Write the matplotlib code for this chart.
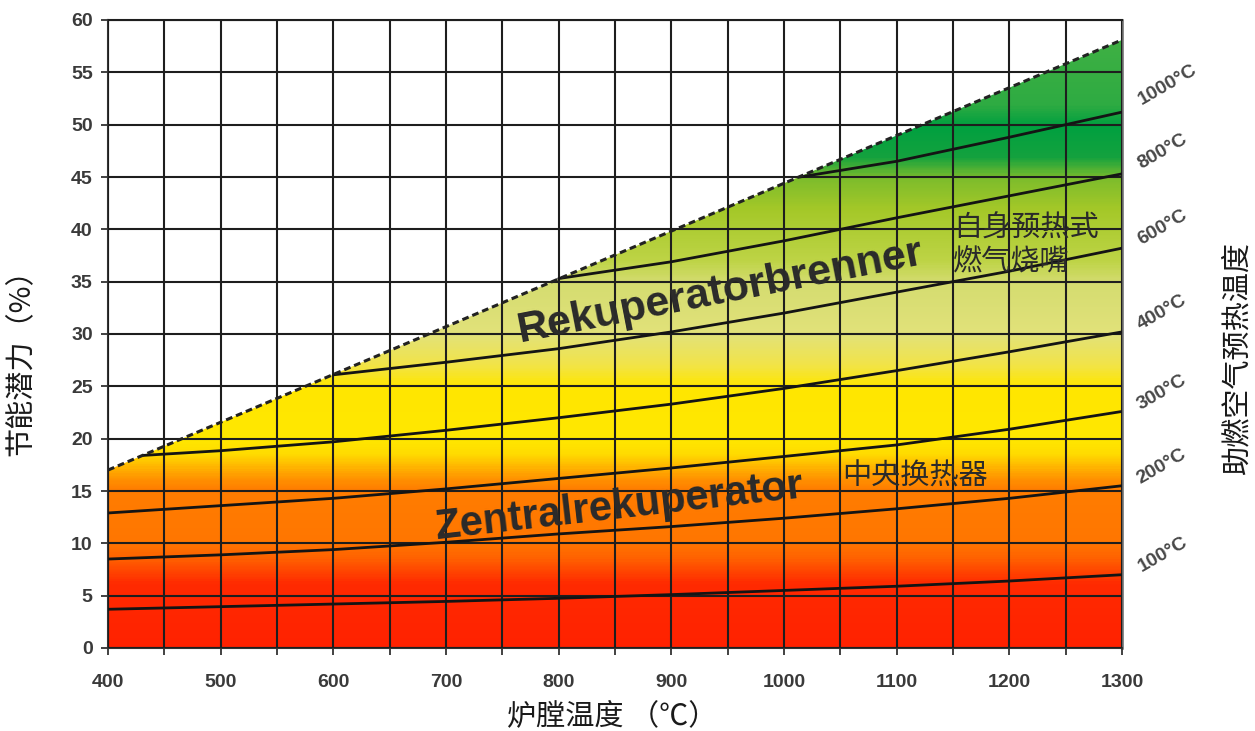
import numpy as np
import matplotlib
matplotlib.use('Agg')
import matplotlib.pyplot as plt
from matplotlib.colors import LinearSegmentedColormap
from matplotlib.patches import Polygon
from matplotlib.ticker import MultipleLocator, FixedLocator

plt.rcParams['font.family'] = ['Liberation Sans', 'Noto Sans CJK SC', 'DejaVu Sans']

# ---------------- data ----------------
x_ticks = [400, 500, 600, 700, 800, 900, 1000, 1100, 1200, 1300]
y_ticks = [0, 5, 10, 15, 20, 25, 30, 35, 40, 45, 50, 55, 60]

limit_x = [400, 1300]
limit_y = [17.0, 58.1]

curve_100_x = [400, 500, 600, 700, 800, 900, 1000, 1100, 1200, 1300]
curve_100_y = [3.7, 3.95, 4.2, 4.45, 4.75, 5.1, 5.5, 5.9, 6.4, 7.0]
curve_200_x = [400, 500, 600, 700, 800, 900, 1000, 1100, 1200, 1300]
curve_200_y = [8.5, 8.9, 9.4, 10.1, 10.9, 11.6, 12.4, 13.3, 14.3, 15.5]
curve_300_x = [400, 500, 600, 700, 800, 900, 1000, 1100, 1200, 1300]
curve_300_y = [12.9, 13.6, 14.3, 15.2, 16.2, 17.2, 18.3, 19.4, 20.9, 22.6]
curve_400_x = [431, 500, 600, 700, 800, 900, 1000, 1100, 1200, 1300]
curve_400_y = [18.4, 18.85, 19.7, 20.8, 22.0, 23.3, 24.8, 26.5, 28.3, 30.2]
curve_600_x = [600, 700, 800, 900, 1000, 1100, 1200, 1300]
curve_600_y = [26.1, 27.3, 28.6, 30.2, 32.0, 34.0, 36.0, 38.2]
curve_800_x = [800, 900, 1000, 1100, 1200, 1300]
curve_800_y = [35.3, 36.9, 38.9, 41.1, 43.2, 45.3]
curve_1000_x = [1014, 1100, 1200, 1300]
curve_1000_y = [45.0, 46.5, 48.8, 51.2]

curve_labels = ['100°C', '200°C', '300°C', '400°C', '600°C', '800°C', '1000°C']

# colour gradient stops (savings %, colour)
grad_levels = [0, 6, 8.5, 10, 15, 16, 18.5, 20, 25, 27, 30, 35, 37, 42, 45, 47, 50, 52, 60]
grad_colors = ['#ff2200', '#ff2a00', '#ff6200', '#ff7600', '#ff7d00', '#ff9000',
               '#ffdc00', '#ffe800', '#ffe600', '#f2e448', '#e2e27a', '#d4dc70',
               '#bed446', '#a4c828', '#7cbc2c', '#14a23e', '#00a040', '#2eab42', '#44b244']

# ---------------- figure ----------------
fig = plt.figure(figsize=(12.55, 7.31), dpi=100)
ax = fig.add_axes([108/1255, 1 - 648/731, (1122-108)/1255, (648-20)/731])
ax.set_xlim(400, 1300)
ax.set_ylim(0, 60)

cmap = LinearSegmentedColormap.from_list(
    'grad', list(zip([v/60 for v in grad_levels], grad_colors)))
yy = np.linspace(0, 60, 600).reshape(-1, 1)
im = ax.imshow(yy, cmap=cmap, vmin=0, vmax=60, origin='lower',
               extent=[400, 1300, 0, 60], aspect='auto', zorder=0,
               interpolation='bilinear')
poly = Polygon([(limit_x[0], 0), (limit_x[0], limit_y[0]),
                (limit_x[1], limit_y[1]), (limit_x[1], 0)],
               closed=True, facecolor='none', edgecolor='none',
               transform=ax.transData)
ax.add_patch(poly)
im.set_clip_path(poly)

# grid
ax.xaxis.set_major_locator(FixedLocator(x_ticks))
ax.xaxis.set_minor_locator(MultipleLocator(50))
ax.yaxis.set_major_locator(FixedLocator(y_ticks))
ax.grid(True, which='both', color='#1e1e1e', linewidth=1.5, zorder=1)
ax.set_axisbelow(False)
for gl in ax.get_xgridlines() + ax.get_ygridlines():
    gl.set_zorder(1)

# curves
for cx, cy in [(curve_100_x, curve_100_y), (curve_200_x, curve_200_y),
               (curve_300_x, curve_300_y), (curve_400_x, curve_400_y),
               (curve_600_x, curve_600_y), (curve_800_x, curve_800_y),
               (curve_1000_x, curve_1000_y)]:
    ax.plot(cx, cy, color='#141414', linewidth=2.0, zorder=3, solid_capstyle='round')

ax.plot(limit_x, limit_y, color='#222222', linewidth=2.2, linestyle=(0, (2.2, 1.3)), zorder=4)

# ticks
ax.tick_params(axis='both', which='both', direction='out', length=5, width=1.3,
               color='#333333')
ax.tick_params(axis='x', which='major', pad=14, labelsize=14, labelcolor='#3a3a3a')
ax.tick_params(axis='y', which='major', pad=6, labelsize=14, labelcolor='#3a3a3a')
for lab in ax.get_xticklabels() + ax.get_yticklabels():
    lab.set_fontweight('bold')

for s in ['left', 'bottom']:
    ax.spines[s].set_color('#333333')
    ax.spines[s].set_linewidth(1.5)
ax.spines['top'].set_color('#1e1e1e')
ax.spines['top'].set_linewidth(1.5)
ax.spines['right'].set_color('#666666')
ax.spines['right'].set_linewidth(1.8)

# in-plot texts
ax.text(943, 34.0, 'Rekuperatorbrenner', fontsize=31, fontweight='bold',
        color='#2a2a2a', rotation=11, rotation_mode='anchor',
        ha='center', va='center', zorder=5, family='Liberation Sans')
ax.text(854, 13.5, 'Zentralrekuperator', fontsize=30, fontweight='bold',
        color='#2a2a2a', rotation=6.5, rotation_mode='anchor',
        ha='center', va='center', zorder=5, family='Liberation Sans')
ax.text(1150, 40.1, '自身预热式', fontsize=21, color='#2a2a2a',
        ha='left', va='center', zorder=5, family=['Noto Sans CJK SC'])
ax.text(1150, 36.8, '燃气烧嘴', fontsize=21, color='#2a2a2a',
        ha='left', va='center', zorder=5, family=['Noto Sans CJK SC'])
ax.text(1052, 16.4, '中央换热器', fontsize=21, color='#2a2a2a',
        ha='left', va='center', zorder=5, family=['Noto Sans CJK SC'])

# right-side curve labels
label_px = [(1163, 555), (1162, 467), (1162, 393), (1162, 313),
            (1162, 228), (1163, 152), (1168, 85)]
for (px, py), lab in zip(label_px, curve_labels):
    fig.text(px/1255, 1 - py/731, lab, fontsize=14, fontweight='bold',
             color='#484848', rotation=30, ha='center', va='center',
             rotation_mode='anchor', family='Liberation Sans')

# axis titles
fig.text(22/1255, 1 - 355/731, '节能潜力（%）', fontsize=21, rotation=90,
         ha='center', va='center', color='#1a1a1a', family=['Noto Sans CJK SC'])
fig.text(1237/1255, 1 - 358/731, '助燃空气预热温度', fontsize=21, rotation=90,
         ha='center', va='center', color='#1a1a1a', family=['Noto Sans CJK SC'])
fig.text(612/1255, 1 - 716/731, '炉膛温度 （℃）', fontsize=21,
         ha='center', va='center', color='#1a1a1a', family=['Noto Sans CJK SC'])

fig.savefig('out.png', dpi=100)
